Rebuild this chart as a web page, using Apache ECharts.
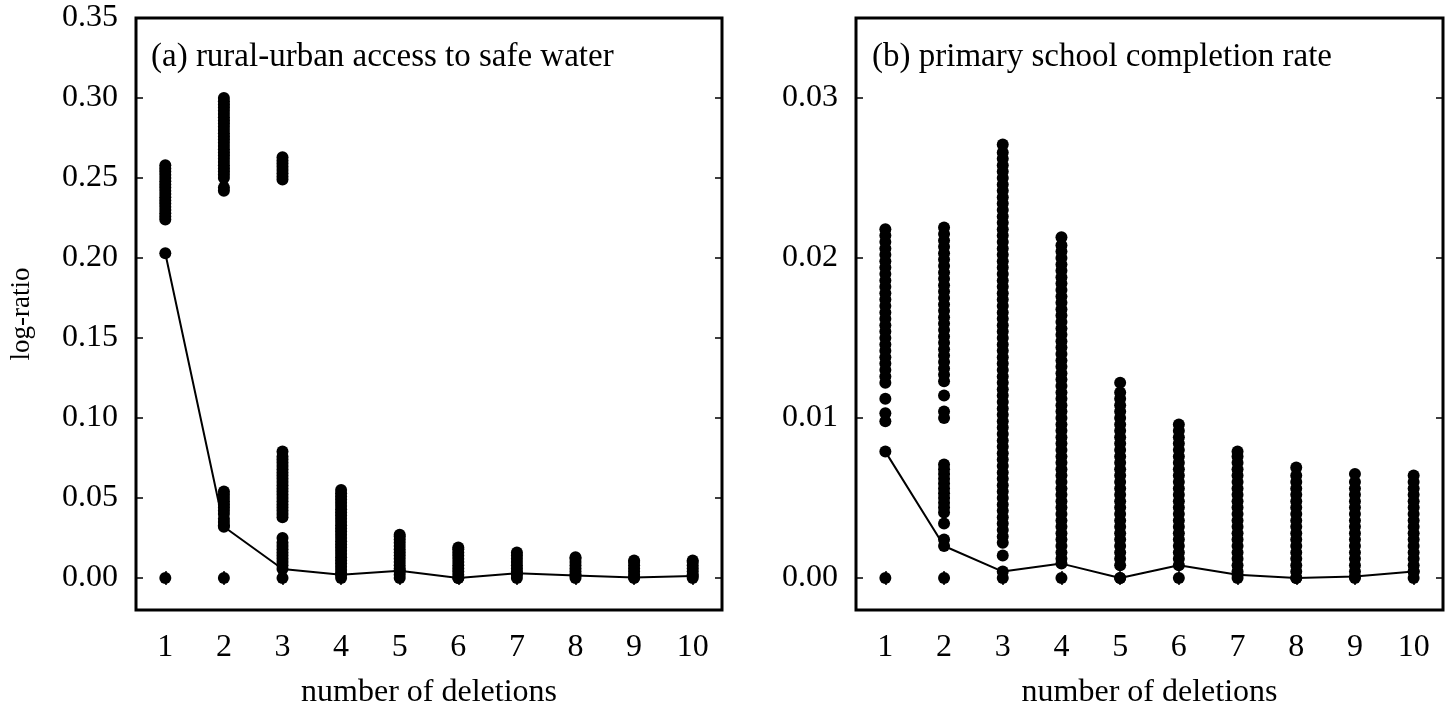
<!DOCTYPE html>
<html>
<head>
<meta charset="utf-8">
<script src="https://cdn.jsdelivr.net/npm/echarts@6/dist/echarts.min.js"></script>
<style>
html,body{margin:0;padding:0;background:#fff;}
#chart{width:1451px;height:713px;}
</style>
</head>
<body>
<div id="chart"></div>
<script>
// ---- data ----
const deletions = [1, 2, 3, 4, 5, 6, 7, 8, 9, 10];
const yTicksA = [0, 0.05, 0.10, 0.15, 0.20, 0.25, 0.30, 0.35];
const yTicksB = [0, 0.01, 0.02, 0.03];
const titleA = '(a) rural-urban access to safe water';
const titleB = '(b) primary school completion rate';
const xName = 'number of deletions';
const yName = 'log-ratio';

// connected (line) values
const waterLine = [0.203, 0.032, 0.0056, 0.002, 0.0045, 0.0, 0.003, 0.0015, 0.0003, 0.0013];
const schoolLine = [0.0079, 0.0020, 0.0004, 0.0009, 0.0, 0.0008, 0.0002, 0.0, 0.0001, 0.0004];

// (a) scatter values per number of deletions
const waterD1 = [0, 0.224, 0.226, 0.228, 0.230, 0.232, 0.234, 0.236, 0.238, 0.240, 0.242, 0.244, 0.246, 0.248, 0.250, 0.252, 0.254, 0.256, 0.258];
const waterD2 = [0, 0.033, 0.035, 0.037, 0.040, 0.042, 0.044, 0.046, 0.048, 0.050, 0.052, 0.054, 0.242, 0.244, 0.250, 0.252, 0.254, 0.256, 0.258, 0.260, 0.262, 0.264, 0.266, 0.268, 0.270, 0.272, 0.274, 0.276, 0.278, 0.280, 0.282, 0.284, 0.286, 0.288, 0.290, 0.292, 0.294, 0.296, 0.298, 0.300];
const waterD3 = [0, 0.008, 0.010, 0.012, 0.014, 0.016, 0.018, 0.020, 0.022, 0.025, 0.038, 0.040, 0.042, 0.044, 0.046, 0.048, 0.050, 0.052, 0.054, 0.056, 0.058, 0.060, 0.062, 0.064, 0.066, 0.068, 0.070, 0.072, 0.074, 0.076, 0.079, 0.249, 0.251, 0.253, 0.255, 0.257, 0.259, 0.261, 0.263];
const waterD4 = [0, 0.003, 0.005, 0.007, 0.009, 0.011, 0.013, 0.015, 0.017, 0.019, 0.021, 0.023, 0.025, 0.027, 0.029, 0.031, 0.033, 0.035, 0.037, 0.039, 0.041, 0.043, 0.045, 0.047, 0.049, 0.051, 0.053, 0.055];
const waterD5 = [0, 0.002, 0.004, 0.006, 0.008, 0.010, 0.012, 0.014, 0.016, 0.018, 0.020, 0.022, 0.024, 0.026, 0.027];
const waterD6 = [0, 0.002, 0.004, 0.006, 0.008, 0.010, 0.012, 0.014, 0.016, 0.018, 0.019];
const waterD7 = [0, 0.002, 0.004, 0.006, 0.008, 0.010, 0.012, 0.014, 0.016];
const waterD8 = [0, 0.002, 0.004, 0.006, 0.008, 0.010, 0.012, 0.013];
const waterD9 = [0, 0.002, 0.004, 0.006, 0.008, 0.010, 0.011];
const waterD10 = [0, 0.002, 0.004, 0.006, 0.008, 0.010, 0.011];

// (b) scatter values per number of deletions
const schoolD1 = [0, 0.0098, 0.0103, 0.0112, 0.0122, 0.0126, 0.0130, 0.0134, 0.0138, 0.0142, 0.0146, 0.0150, 0.0154, 0.0158, 0.0162, 0.0166, 0.0170, 0.0174, 0.0178, 0.0182, 0.0186, 0.0190, 0.0194, 0.0198, 0.0202, 0.0206, 0.0210, 0.0214, 0.0218];
const schoolD2 = [0, 0.0024, 0.0034, 0.0041, 0.0044, 0.0047, 0.0050, 0.0053, 0.0056, 0.0059, 0.0062, 0.0065, 0.0068, 0.0071, 0.0100, 0.0104, 0.0114, 0.0123, 0.0127, 0.0131, 0.0135, 0.0139, 0.0143, 0.0147, 0.0151, 0.0155, 0.0159, 0.0163, 0.0167, 0.0171, 0.0175, 0.0179, 0.0183, 0.0187, 0.0191, 0.0195, 0.0199, 0.0203, 0.0207, 0.0211, 0.0215, 0.0219];
const schoolD3 = [0, 0.0014, 0.0022, 0.0026, 0.0030, 0.0034, 0.0038, 0.0042, 0.0046, 0.0050, 0.0054, 0.0058, 0.0062, 0.0066, 0.0070, 0.0074, 0.0078, 0.0082, 0.0086, 0.0090, 0.0094, 0.0098, 0.0102, 0.0106, 0.0110, 0.0114, 0.0118, 0.0122, 0.0126, 0.0130, 0.0134, 0.0138, 0.0142, 0.0146, 0.0150, 0.0154, 0.0158, 0.0162, 0.0166, 0.0170, 0.0174, 0.0178, 0.0182, 0.0186, 0.0190, 0.0194, 0.0198, 0.0202, 0.0206, 0.0210, 0.0214, 0.0218, 0.0222, 0.0226, 0.0230, 0.0234, 0.0238, 0.0242, 0.0246, 0.0250, 0.0254, 0.0258, 0.0262, 0.0266, 0.0271];
const schoolD4 = [0, 0.0012, 0.0016, 0.0020, 0.0024, 0.0028, 0.0032, 0.0036, 0.0040, 0.0044, 0.0048, 0.0052, 0.0056, 0.0060, 0.0064, 0.0068, 0.0072, 0.0076, 0.0080, 0.0084, 0.0088, 0.0092, 0.0096, 0.0100, 0.0104, 0.0108, 0.0112, 0.0116, 0.0120, 0.0124, 0.0128, 0.0132, 0.0136, 0.0140, 0.0144, 0.0148, 0.0152, 0.0156, 0.0160, 0.0164, 0.0168, 0.0172, 0.0176, 0.0180, 0.0184, 0.0188, 0.0192, 0.0196, 0.0200, 0.0204, 0.0208, 0.0213];
const schoolD5 = [0, 0.0008, 0.0012, 0.0016, 0.0020, 0.0024, 0.0028, 0.0032, 0.0036, 0.0040, 0.0044, 0.0048, 0.0052, 0.0056, 0.0060, 0.0064, 0.0068, 0.0072, 0.0076, 0.0080, 0.0084, 0.0088, 0.0092, 0.0096, 0.0100, 0.0104, 0.0108, 0.0112, 0.0116, 0.0122];
const schoolD6 = [0, 0.0012, 0.0016, 0.0020, 0.0024, 0.0028, 0.0032, 0.0036, 0.0040, 0.0044, 0.0048, 0.0052, 0.0056, 0.0060, 0.0064, 0.0068, 0.0072, 0.0076, 0.0080, 0.0084, 0.0088, 0.0092, 0.0096];
const schoolD7 = [0, 0.0004, 0.0008, 0.0012, 0.0016, 0.0020, 0.0024, 0.0028, 0.0032, 0.0036, 0.0040, 0.0044, 0.0048, 0.0052, 0.0056, 0.0060, 0.0064, 0.0068, 0.0072, 0.0076, 0.0079];
const schoolD8 = [0, 0.0004, 0.0008, 0.0012, 0.0016, 0.0020, 0.0024, 0.0028, 0.0032, 0.0036, 0.0040, 0.0044, 0.0048, 0.0052, 0.0056, 0.0060, 0.0064, 0.0069];
const schoolD9 = [0, 0.0004, 0.0008, 0.0012, 0.0016, 0.0020, 0.0024, 0.0028, 0.0032, 0.0036, 0.0040, 0.0044, 0.0048, 0.0052, 0.0056, 0.0060, 0.0065];
const schoolD10 = [0, 0.0004, 0.0008, 0.0012, 0.0016, 0.0020, 0.0024, 0.0028, 0.0032, 0.0036, 0.0040, 0.0044, 0.0048, 0.0052, 0.0056, 0.0060, 0.0064];

const waterGroups = [waterD1, waterD2, waterD3, waterD4, waterD5, waterD6, waterD7, waterD8, waterD9, waterD10];
const schoolGroups = [schoolD1, schoolD2, schoolD3, schoolD4, schoolD5, schoolD6, schoolD7, schoolD8, schoolD9, schoolD10];

// ---- build ----
const FONT = "'Liberation Serif', 'Times New Roman', serif";
function toPairs(groups) {
  const out = [];
  groups.forEach((g, i) => g.forEach(v => out.push([deletions[i], v])));
  return out;
}
const tickStyle = { show: true, inside: true, length: 7, lineStyle: { color: '#000', width: 1.5 } };

function xAxes(gi) {
  return [
    {
      type: 'value', gridIndex: gi, min: 0.5, max: 10.5, position: 'bottom',
      axisLine: { show: false }, splitLine: { show: false },
      axisTick: Object.assign({ customValues: deletions }, tickStyle),
      axisLabel: { customValues: deletions, color: '#000', fontFamily: FONT, fontSize: 32, margin: 22 },
      name: xName, nameLocation: 'middle', nameGap: 67,
      nameTextStyle: { color: '#000', fontFamily: FONT, fontSize: 32 }
    },
    {
      type: 'value', gridIndex: gi, min: 0.5, max: 10.5, position: 'top',
      axisLine: { show: false }, splitLine: { show: false },
      axisTick: Object.assign({ customValues: deletions }, tickStyle),
      axisLabel: { show: false }
    }
  ];
}
function yAxes(gi, min, max, ticks, dec, name) {
  const main = {
    type: 'value', gridIndex: gi, min: min, max: max, position: 'left',
    axisLine: { show: false }, splitLine: { show: false },
    axisTick: Object.assign({ customValues: ticks }, tickStyle),
    axisLabel: { customValues: ticks, color: '#000', fontFamily: FONT, fontSize: 32, margin: 18,
      formatter: v => Number(v).toFixed(dec) }
  };
  if (name) {
    main.name = name; main.nameLocation = 'middle'; main.nameGap = 101;
    main.nameTextStyle = { color: '#000', fontFamily: FONT, fontSize: 27 };
  }
  return [main, {
    type: 'value', gridIndex: gi, min: min, max: max, position: 'right',
    axisLine: { show: false }, splitLine: { show: false },
    axisTick: Object.assign({ customValues: ticks }, tickStyle),
    axisLabel: { show: false }
  }];
}

const dotStyle = { color: '#000', opacity: 1, borderWidth: 0 };
const chart = echarts.init(document.getElementById('chart'), null, { renderer: 'canvas' });
const option = {
  backgroundColor: '#fff',
  animation: false,
  title: [
    { text: titleA, left: 146, top: 36, textStyle: { fontFamily: FONT, fontSize: 33, fontWeight: 'normal', color: '#000' } },
    { text: titleB, left: 867, top: 36, textStyle: { fontFamily: FONT, fontSize: 33, fontWeight: 'normal', color: '#000' } }
  ],
  grid: [
    { left: 136, top: 18, width: 586, height: 592, show: true, borderColor: '#000', borderWidth: 3, backgroundColor: 'transparent', outerBoundsMode: 'none', containLabel: false },
    { left: 856, top: 18, width: 587, height: 592, show: true, borderColor: '#000', borderWidth: 3, backgroundColor: 'transparent', outerBoundsMode: 'none', containLabel: false }
  ],
  xAxis: [].concat(xAxes(0), xAxes(1)),
  yAxis: [].concat(yAxes(0, -0.02, 0.35, yTicksA, 2, yName), yAxes(1, -0.002, 0.035, yTicksB, 2, null)),
  series: [
    { type: 'scatter', xAxisIndex: 0, yAxisIndex: 0, data: toPairs(waterGroups), symbol: 'circle', symbolSize: 12, itemStyle: dotStyle, silent: true },
    { type: 'line', xAxisIndex: 0, yAxisIndex: 0, data: deletions.map((d, i) => [d, waterLine[i]]), symbol: 'circle', symbolSize: 12, showSymbol: true, itemStyle: dotStyle, lineStyle: { color: '#000', width: 2 }, silent: true },
    { type: 'scatter', xAxisIndex: 2, yAxisIndex: 2, data: toPairs(schoolGroups), symbol: 'circle', symbolSize: 12, itemStyle: dotStyle, silent: true },
    { type: 'line', xAxisIndex: 2, yAxisIndex: 2, data: deletions.map((d, i) => [d, schoolLine[i]]), symbol: 'circle', symbolSize: 12, showSymbol: true, itemStyle: dotStyle, lineStyle: { color: '#000', width: 2 }, silent: true }
  ]
};
chart.setOption(option);
</script>
</body>
</html>
